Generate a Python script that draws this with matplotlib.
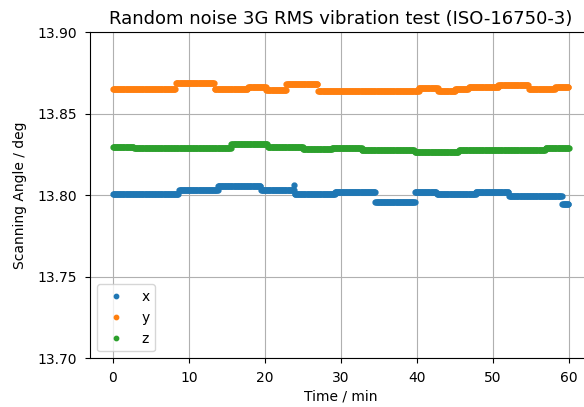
import matplotlib
matplotlib.use('Agg')
import matplotlib.pyplot as plt
import numpy as np

# step levels: segment edges (min) and angle (deg)
x_breaks = [0, 8.7, 13.8, 19.5, 23.9, 29.2, 34.5, 39.7, 42.6, 47.7, 52.1, 59.1, 60.0]
x_levels = [13.801, 13.803, 13.8055, 13.803, 13.8005, 13.802, 13.796, 13.802, 13.8007, 13.802, 13.7997, 13.7945]
x_spike_t = [23.8]
x_spike_v = [13.8066]

y_breaks = [0, 8.3, 13.4, 17.8, 20.2, 22.8, 27.0, 40.2, 42.8, 45.0, 46.8, 50.7, 54.7, 58.2, 60.0]
y_levels = [13.865, 13.869, 13.865, 13.8667, 13.8644, 13.868, 13.8642, 13.8659, 13.8642, 13.865, 13.8664, 13.8677, 13.865, 13.8664]

z_breaks = [0, 2.8, 15.6, 20.4, 25.0, 28.8, 32.7, 39.7, 45.5, 56.9, 60.0]
z_levels = [13.8298, 13.8288, 13.8315, 13.8294, 13.8282, 13.8292, 13.8278, 13.8264, 13.8278, 13.8293]

dt = 0.1  # sample interval in minutes


def expand(breaks, levels):
    ts, vs = [], []
    for a, b, v in zip(breaks[:-1], breaks[1:], levels):
        t = np.arange(a, b, dt)
        ts.append(t)
        vs.append(np.full(len(t), v))
    return np.concatenate(ts), np.concatenate(vs)


tx, vx = expand(x_breaks, x_levels)
tx = np.concatenate([tx, x_spike_t])
vx = np.concatenate([vx, x_spike_v])
ty, vy = expand(y_breaks, y_levels)
tz, vz = expand(z_breaks, z_levels)

fig = plt.figure(figsize=(5.84, 4.07), dpi=100)
# right spine sits just past the picture edge, as in the cropped original
ax = fig.add_axes([0.1541, 0.1197, 0.8596, 0.8010])

ax.plot(tx, vx, '.', ms=7, label='x')
ax.plot(ty, vy, '.', ms=7, label='y')
ax.plot(tz, vz, '.', ms=7, label='z')

ax.set_xlim(-3, 63)
ax.set_ylim(13.70, 13.90)
ax.set_yticks([13.70, 13.75, 13.80, 13.85, 13.90])
ax.set_yticklabels(['13.70', '13.75', '13.80', '13.85', '13.90'])
ax.tick_params(pad=6)
ax.grid(True)
ax.set_xlabel('Time / min', labelpad=3)
ax.set_ylabel('Scanning Angle / deg', labelpad=7)
ax.set_title('Random noise 3G RMS vibration test (ISO-16750-3)', fontsize=13)
ax.legend(loc='lower left', markerscale=0.9)

fig.savefig('out.png', dpi=100)
